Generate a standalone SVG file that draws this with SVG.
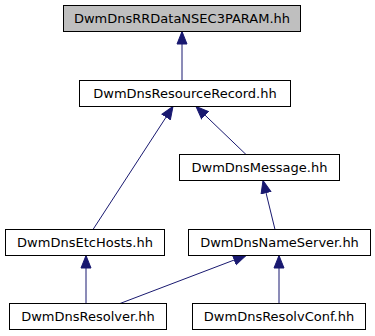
<svg xmlns="http://www.w3.org/2000/svg" width="375" height="336" viewBox="0 0 375 336">
<style>
.n rect{fill:#fff;stroke:#000;stroke-width:1}
.n text{font-family:"DejaVu Sans",sans-serif;font-size:13px;fill:#000;text-anchor:middle}
.e line{stroke:#191970;stroke-width:1;fill:none}
</style>
<defs>
<marker id="a" markerUnits="userSpaceOnUse" markerWidth="14" markerHeight="12" viewBox="0 -6 14 12" refX="13" refY="0" orient="auto">
<path d="M0.5,-5 L13,0 L0.5,5 Z" fill="#191970" stroke="#191970" stroke-width="1"/>
</marker>
</defs>
<rect width="375" height="336" fill="#fff"/>
<g class="e">
<line x1="182" y1="80.5" x2="182" y2="31.5" marker-end="url(#a)"/>
<line x1="93" y1="229.5" x2="173" y2="106.5" marker-end="url(#a)"/>
<line x1="246" y1="154.5" x2="196" y2="106.5" marker-end="url(#a)"/>
<line x1="275" y1="229.5" x2="263" y2="180.5" marker-end="url(#a)"/>
<line x1="86" y1="303.5" x2="86" y2="255.5" marker-end="url(#a)"/>
<line x1="120" y1="303.5" x2="246" y2="255.5" marker-end="url(#a)"/>
<line x1="279" y1="303.5" x2="279" y2="255.5" marker-end="url(#a)"/>
</g>
<g class="n" id="n0"><rect x="63.5" y="5.5" width="237" height="26" style="fill:#bfbfbf"/><text x="182" y="23">DwmDnsRRDataNSEC3PARAM.hh</text></g>
<g class="n" id="n1"><rect x="79.5" y="80.5" width="211" height="26"/><text x="185" y="98">DwmDnsResourceRecord.hh</text></g>
<g class="n" id="n2"><rect x="179.5" y="154.5" width="160" height="26"/><text x="259.5" y="172">DwmDnsMessage.hh</text></g>
<g class="n" id="n3"><rect x="5.5" y="229.5" width="159" height="26"/><text x="85" y="247">DwmDnsEtcHosts.hh</text></g>
<g class="n" id="n4"><rect x="188.5" y="229.5" width="182" height="26"/><text x="279.5" y="247">DwmDnsNameServer.hh</text></g>
<g class="n" id="n5"><rect x="9.5" y="303.5" width="157" height="26"/><text x="88" y="321">DwmDnsResolver.hh</text></g>
<g class="n" id="n6"><rect x="192.5" y="303.5" width="173" height="26"/><text x="279" y="321">DwmDnsResolvConf.hh</text></g>
</svg>
